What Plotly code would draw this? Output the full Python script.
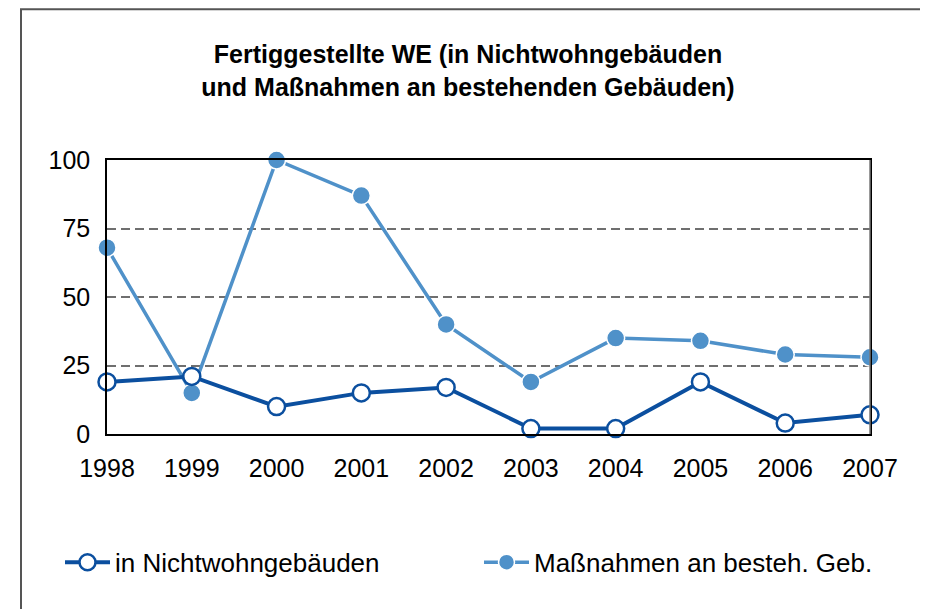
import plotly.graph_objects as go

years = [1998, 1999, 2000, 2001, 2002, 2003, 2004, 2005, 2006, 2007]
nichtwohn = [19, 21, 10, 15, 17, 2, 2, 19, 4, 7]
massnahmen = [68, 15, 100, 87, 40, 19, 35, 34, 29, 28]
y_ticks = [0, 25, 50, 75, 100]

title_text = "<b>Fertiggestellte WE (in Nichtwohngebäuden<br>und Maßnahmen an bestehenden Gebäuden)</b>"
name1 = "in Nichtwohngebäuden"
name2 = "Maßnahmen an besteh. Geb."

dark = "#0B4F9F"
light = "#4F91C9"
FONT = "Liberation Sans, Arial, sans-serif"

# page has an 8px body margin; work in figure coordinates (page - 8)
OFF = 8
W, H = 928 - OFF, 609 - OFF
L, T = 107 - OFF, 160 - OFF
R = W - (870 - OFF)
B = H - (434.5 - OFF)
pw = W - L - R
ph = H - T - B

def px_x(p):
    return (p - OFF - L) / pw

def px_y(p):
    return (H - B - (p - OFF)) / ph

fig = go.Figure()
fig.add_trace(go.Scatter(
    x=years, y=massnahmen, name=name2, mode="lines+markers",
    line=dict(color=light, width=3.5),
    marker=dict(symbol="circle", size=18, color=light, line=dict(color="white", width=1.5)),
    cliponaxis=False, legend="legend2",
))
fig.add_trace(go.Scatter(
    x=years, y=nichtwohn, name=name1, mode="lines+markers",
    line=dict(color=dark, width=4),
    marker=dict(symbol="circle", size=17, color="white", line=dict(color=dark, width=2.5)),
    cliponaxis=False, legend="legend",
))

leg_common = dict(orientation="h", xanchor="left", yanchor="middle",
                  font=dict(family=FONT, size=26, color="black"),
                  itemwidth=45, bgcolor="rgba(0,0,0,0)")

fig.update_layout(
    width=W, height=H,
    margin=dict(l=L, r=R, t=T, b=B, pad=0),
    paper_bgcolor="white", plot_bgcolor="white",
    font=dict(family=FONT, size=25, color="black"),
    title=dict(text=title_text, x=0.5, xanchor="center", y=1 - 55 / H, yanchor="middle",
               font=dict(family=FONT, size=25, color="black")),
    showlegend=True,
    legend=dict(x=px_x(60), y=px_y(563), **leg_common),
    legend2=dict(x=px_x(479), y=px_y(563), **leg_common),
    xaxis=dict(range=[years[0], years[-1]], tickmode="array", tickvals=years,
               ticktext=[str(y) for y in years], showgrid=False, zeroline=False,
               showline=True, linecolor="black", linewidth=1.5, mirror=True,
               ticks="", ticklabelstandoff=11, tickfont=dict(size=25)),
    yaxis=dict(range=[0, 100], tickmode="array", tickvals=y_ticks,
               showgrid=True, gridcolor="#6f6f6f", gridwidth=1.5, griddash="9px,5px",
               zeroline=False, showline=True, linecolor="black", linewidth=1.5, mirror=True,
               ticks="", ticklabelstandoff=10, tickfont=dict(size=25)),
    shapes=[dict(type="rect", xref="paper", yref="paper",
                 x0=px_x(21), x1=2, y0=-2, y1=px_y(9),
                 line=dict(color="#555555", width=2), fillcolor="rgba(0,0,0,0)", layer="below"),
            dict(type="line", xref="paper", yref="paper", x0=1, x1=1, y0=0, y1=1,
                 line=dict(color="#777777", width=1.5))],
)

fig.write_html("out.html")
